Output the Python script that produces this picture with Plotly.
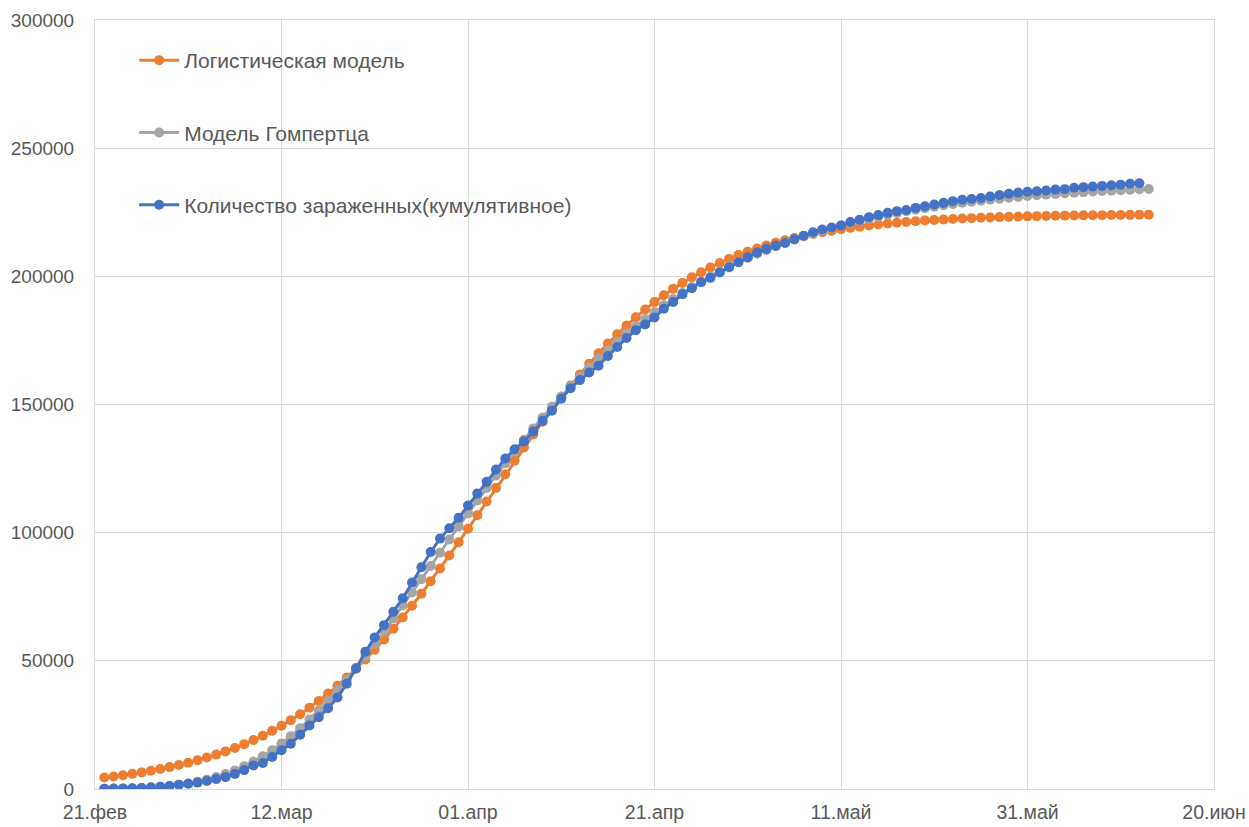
import pandas as pd
import plotly.graph_objects as go

# ---- data ----
start_date = "2020-02-22"

logistic = [
    4472, 4908, 5385, 5908, 6480, 7105, 7789, 8535, 9350, 10240,
    11209, 12265, 13414, 14664, 16020, 17493, 19088, 20813, 22678, 24689,
    26855, 29183, 31680, 34354, 37210, 40253, 43487, 46914, 50536, 54352,
    58360, 62554, 66927, 71472, 76176, 81025, 86004, 91094, 96274, 101526,
    106825, 112150, 117475, 122774, 128026, 133206, 138296, 143275, 148124, 152828,
    157373, 161746, 165940, 169948, 173764, 177386, 180813, 184047, 187090, 189946,
    192620, 195117, 197445, 199611, 201622, 203487, 205212, 206807, 208280, 209636,
    210886, 212035, 213091, 214060, 214950, 215765, 216511, 217195, 217820, 218392,
    218915, 219392, 219828, 220226, 220589, 220920, 221222, 221498, 221749, 221978,
    222186, 222376, 222549, 222707, 222850, 222981, 223100, 223208, 223307, 223396,
    223478, 223552, 223619, 223681, 223737, 223788, 223834, 223876, 223915, 223950,
    223981, 224010, 224036,
]

gompertz = [
    77, 123, 190, 287, 424, 610, 861, 1191, 1617, 2157,
    2829, 3653, 4649, 5833, 7224, 8836, 10684, 12777, 15124, 17727,
    20589, 23707, 27075, 30686, 34528, 38587, 42847, 47291, 51899, 56651,
    61525, 66503, 71559, 76675, 81829, 87003, 92178, 97333, 102454, 107527,
    112536, 117469, 122314, 127063, 131705, 136235, 140646, 144932, 149091, 153117,
    157012, 160771, 164395, 167886, 171242, 174465, 177559, 180523, 183363, 186077,
    188673, 191151, 193516, 195772, 197921, 199968, 201915, 203768, 205529, 207202,
    208791, 210299, 211730, 213088, 214375, 215595, 216750, 217845, 218882, 219862,
    220791, 221669, 222500, 223286, 224029, 224731, 225394, 226021, 226614, 227173,
    227702, 228201, 228673, 229117, 229538, 229934, 230308, 230662, 230995, 231309,
    231606, 231886, 232150, 232399, 232634, 232856, 233065, 233262, 233447, 233623,
    233788, 233943, 234090,
]

cumulative = [
    79, 150, 229, 322, 400, 650, 888, 1128, 1694, 2036,
    2502, 3089, 3858, 4636, 5883, 7375, 9172, 10149, 12462, 15113,
    17660, 21157, 24747, 27980, 31506, 35713, 41035, 47021, 53578, 59138,
    63927, 69176, 74386, 80539, 86498, 92472, 97689, 101739, 105792, 110574,
    115242, 119827, 124632, 128948, 132547, 135586, 139422, 143626, 147577, 152271,
    156363, 159516, 162488, 165155, 168941, 172434, 175925, 178972, 181228, 183957,
    187327, 189973, 192994, 195351, 197675, 199414, 201505, 203591, 205463, 207428,
    209328, 210717, 211938, 213013, 214457, 215858, 217185, 218268, 219070, 219814,
    221216, 222104, 223096, 223885, 224760, 225435, 225886, 226699, 227364, 228006,
    228658, 229327, 229858, 230158, 230555, 231139, 231732, 232248, 232664, 232997,
    233197, 233515, 233836, 234013, 234531, 234801, 234998, 235278, 235561, 235763,
    236142, 236305,
]

tick_dates = ["2020-02-21", "2020-03-12", "2020-04-01", "2020-04-21",
              "2020-05-11", "2020-05-31", "2020-06-20"]
tick_labels = ["21.фев", "12.мар", "01.апр", "21.апр", "11.май", "31.май", "20.июн"]

series_names = ["Логистическая модель", "Модель Гомпертца",
                "Количество зараженных(кумулятивное)"]
colors = ["#ED7D31", "#A5A5A5", "#4472C4"]

dates = pd.date_range(start_date, periods=len(logistic))

fig = go.Figure()
for name, vals, col in zip(series_names, [logistic, gompertz, cumulative], colors):
    fig.add_trace(go.Scatter(
        x=dates[:len(vals)], y=vals, name=name, mode="lines+markers",
        line=dict(color=col, width=3),
        marker=dict(color=col, size=10, symbol="circle"),
        legendgroup=name,
    ))

font_family = "Liberation Sans, Arial, sans-serif"
grid = "#D9D9D9"
fig.update_layout(
    width=1249, height=827,
    margin=dict(l=95, r=35, t=20, b=38, autoexpand=False),
    paper_bgcolor="white", plot_bgcolor="white",
    font=dict(family=font_family, size=19, color="#595959"),
    showlegend=True,
    legend=dict(x=0.035, y=0.974, xanchor="left", yanchor="top",
                bgcolor="rgba(0,0,0,0)", font=dict(size=21, color="#595959"),
                itemwidth=40, tracegroupgap=42),
    xaxis=dict(type="date", range=[tick_dates[0], tick_dates[-1]],
               tickmode="array", tickvals=tick_dates, ticktext=tick_labels,
               showgrid=True, gridcolor=grid, gridwidth=1,
               showline=True, linecolor=grid, mirror=True, automargin=False,
               ticks="", ticklabelstandoff=6,
               tickfont=dict(size=19.5, color="#595959")),
    yaxis=dict(range=[0, 300000], dtick=50000, tickformat="d",
               showgrid=True, gridcolor=grid, gridwidth=1, zeroline=False,
               showline=True, linecolor=grid, mirror=True, automargin=False,
               ticks="", ticklabelstandoff=16,
               tickfont=dict(size=19, color="#595959")),
)

fig.write_html("out.html")
